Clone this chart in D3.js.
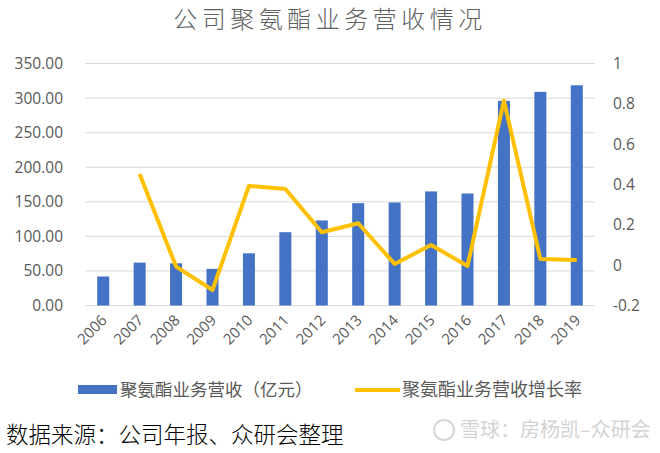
<!DOCTYPE html>
<html>
<head>
<meta charset="utf-8">
<script src="https://cdn.jsdelivr.net/npm/d3@7"></script>
<style>
  html, body { margin: 0; padding: 0; background: #fff; }
  svg { display: block; }
  text { font-family: "Noto Sans CJK SC", "Open Sans", sans-serif; }
</style>
</head>
<body>
<svg id="chart" width="660" height="453"></svg>
<script>
const years = ["2006","2007","2008","2009","2010","2011","2012","2013","2014","2015","2016","2017","2018","2019"];
const revenue = [42, 62, 61, 53, 75.5, 106, 123, 148, 149, 165, 162, 296, 309, 318.5];
const growth = [null, 0.452, -0.007, -0.123, 0.393, 0.378, 0.163, 0.208, 0.006, 0.10, -0.004, 0.816, 0.031, 0.026];
const leftTicks = [0, 50, 100, 150, 200, 250, 300, 350];
const rightTicks = [-0.2, 0, 0.2, 0.4, 0.6, 0.8, 1];

const title = "公司聚氨酯业务营收情况";
const barLabel = "聚氨酯业务营收（亿元）";
const lineLabel = "聚氨酯业务营收增长率";
const sourceText = "数据来源：公司年报、众研会整理";
const watermark = "雪球：房杨凯–众研会";

const svg = d3.select("#chart");
const pL = 85, pR = 595, pT = 63.5, pB = 305.5;
const txt = "#595959";

const x = d3.scaleBand().domain(years).range([pL, pR]).paddingInner(0.67).paddingOuter(0.335);
const yL = d3.scaleLinear().domain([0, 350]).range([pB, pT]);
const yR = d3.scaleLinear().domain([-0.2, 1]).range([pB, pT]);

// gridlines
svg.append("g").selectAll("line").data(leftTicks).join("line")
  .attr("x1", pL).attr("x2", pR)
  .attr("y1", d => yL(d)).attr("y2", d => yL(d))
  .attr("stroke", "#d9d9d9").attr("stroke-width", 1);

// left axis
const axL = svg.append("g").attr("transform", `translate(${pL},0)`)
  .call(d3.axisLeft(yL).tickValues(leftTicks).tickFormat(d3.format(".2f")).tickSize(0).tickPadding(22));
axL.select(".domain").remove();
axL.selectAll("text").attr("fill", txt).style("font-size", "15.5px").style("font-family", "'Open Sans', 'Liberation Sans', sans-serif");

// right axis
const axR = svg.append("g").attr("transform", `translate(${pR},0)`)
  .call(d3.axisRight(yR).tickValues(rightTicks).tickFormat(d => String(Math.round(d*10)/10)).tickSize(0).tickPadding(18));
axR.select(".domain").remove();
axR.selectAll("text").attr("fill", txt).style("font-size", "15.5px").style("font-family", "'Open Sans', 'Liberation Sans', sans-serif");

// bars
svg.append("g").selectAll("rect").data(years).join("rect")
  .attr("x", d => x(d)).attr("width", x.bandwidth())
  .attr("y", (d, i) => yL(revenue[i])).attr("height", (d, i) => yL(0) - yL(revenue[i]))
  .attr("fill", "#4472C4");

// line
const line = d3.line()
  .defined(d => d.v !== null)
  .x(d => x(d.y) + x.bandwidth() / 2)
  .y(d => yR(d.v));
svg.append("path")
  .datum(years.map((y, i) => ({ y, v: growth[i] })))
  .attr("d", line).attr("fill", "none")
  .attr("stroke", "#FFC000").attr("stroke-width", 4).attr("stroke-linejoin", "round");

// x axis labels
const axX = svg.append("g").attr("transform", `translate(0,${pB})`)
  .call(d3.axisBottom(x).tickSize(0).tickPadding(0));
axX.select(".domain").remove();
axX.selectAll("text")
  .attr("fill", txt).style("font-size", "15px").style("font-family", "'Open Sans', 'Liberation Sans', sans-serif")
  .attr("text-anchor", "end").attr("dy", "0.35em")
  .attr("transform", "translate(1,12) rotate(-45)");

// title
svg.append("text").attr("x", 330).attr("y", 28).attr("text-anchor", "middle")
  .attr("fill", "#606060").style("font-size", "24px").style("font-weight", "300").style("letter-spacing", "4.5px").text(title);

// legend
svg.append("rect").attr("x", 78).attr("y", 385).attr("width", 39).attr("height", 9).attr("fill", "#4472C4");
svg.append("text").attr("x", 120).attr("y", 390).attr("dy", "0.35em").attr("fill", txt)
  .style("font-size", "17.5px").text(barLabel);
svg.append("line").attr("x1", 355).attr("x2", 400).attr("y1", 390).attr("y2", 390)
  .attr("stroke", "#FFC000").attr("stroke-width", 4);
svg.append("text").attr("x", 402).attr("y", 390).attr("dy", "0.35em").attr("fill", txt)
  .style("font-size", "18px").text(lineLabel);

// source
svg.append("text").attr("x", 6).attr("y", 435).attr("dy", "0.35em").attr("fill", "#000")
  .style("font-size", "22.5px").style("font-weight", "300").text(sourceText);

// watermark
const wm = svg.append("g");
wm.append("circle").attr("cx", 444).attr("cy", 430).attr("r", 10).attr("fill", "none").attr("stroke", "#d6d6d6").attr("stroke-width", 2);
wm.append("text").attr("x", 460).attr("y", 430).attr("dy", "0.35em").attr("fill", "#d3d3d3")
  .style("font-size", "20px").text(watermark);
</script>
</body>
</html>
